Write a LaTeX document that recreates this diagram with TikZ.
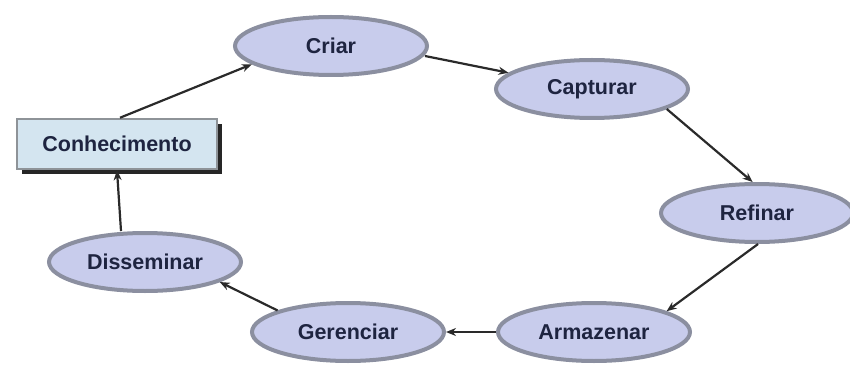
\documentclass[tikz,border=0pt]{standalone}
\usepackage{fontspec}
\setmainfont{Liberation Sans}
\usetikzlibrary{shapes.geometric,arrows.meta,shadows}
\definecolor{ellfill}{HTML}{C8CCEC}
\definecolor{ellline}{HTML}{8B8FA0}
\definecolor{txt}{HTML}{1E2440}
\definecolor{boxfill}{HTML}{D4E5F0}
\definecolor{boxline}{HTML}{8E9398}
\definecolor{arr}{HTML}{2A2A2A}
\begin{document}
\begin{tikzpicture}[x=1pt,y=-1pt,
  stage/.style={ellipse, draw=ellline, line width=4pt, fill=ellfill,
    minimum width=192pt, minimum height=58pt, inner sep=0pt,
    font=\fontsize{21.5}{24}\selectfont\bfseries, text=txt},
  kbox/.style={rectangle, draw=boxline, line width=2.5pt, fill=boxfill,
    minimum width=200pt, minimum height=50pt, inner sep=0pt,
    font=\fontsize{21.5}{24}\selectfont\bfseries, text=txt,
    drop shadow={shadow xshift=5pt, shadow yshift=-5pt, fill=black!85, opacity=1}},
  link/.style={draw=arr, line width=2.2pt, -{Stealth[length=10pt,width=8pt]}}]
\useasboundingbox (0,0) rectangle (850,366);
\node[stage] (criar) at (331,46) {Criar};
\node[stage] (capturar) at (592,89) {Capturar};
\node[stage] (refinar) at (757,213) {Refinar};
\node[stage] (armazenar) at (594,332) {Armazenar};
\node[stage] (gerenciar) at (348,332) {Gerenciar};
\node[stage] (disseminar) at (145,262) {Disseminar};
\node[kbox] (conh) at (117,144) {Conhecimento};
\draw[link] (conh.north) ++(3,0) coordinate (c1) -- (criar.193);
\draw[link] (criar.east) ++(-4,10) coordinate (c2) -- (capturar.169);
\draw[link] (capturar.-15) -- (refinar.98);
\draw[link] (refinar.-88) -- (armazenar.16);
\draw[link] (armazenar.west) -- (gerenciar.east);
\draw[link] (gerenciar.163) -- (disseminar.-15);
\draw[link] (disseminar.north) ++(-24,0) coordinate (d1) -- (conh.south);
\end{tikzpicture}
\end{document}
